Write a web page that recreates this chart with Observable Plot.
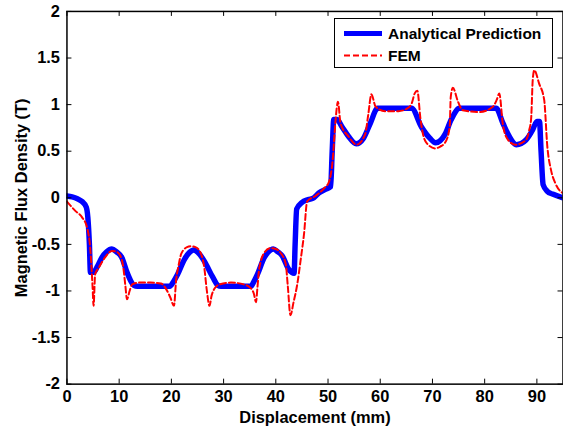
<!DOCTYPE html>
<html>
<head>
<meta charset="utf-8">
<script src="https://cdn.jsdelivr.net/npm/d3@7"></script>
<script src="https://cdn.jsdelivr.net/npm/@observablehq/plot@0.6"></script>
<style>
  html, body { margin: 0; padding: 0; background: #fff; overflow: hidden; }
  #wrap { position: relative; width: 563px; height: 431px; overflow: hidden; }
  #legend { position: absolute; left: 334px; top: 18px; width: 217px; height: 48px;
            border: 1px solid #000; background: #fff; }
  svg text { font-family: "Liberation Sans", Arial, sans-serif; }
</style>
</head>
<body>
<div id="wrap"></div>
<script>
// ---- data ----
const xTicks = [0, 10, 20, 30, 40, 50, 60, 70, 80, 90];
const yTicks = [-2, -1.5, -1, -0.5, 0, 0.5, 1, 1.5, 2];
const yTickLabels = ["-2", "-1.5", "-1", "-0.5", "0", "0.5", "1", "1.5", "2"];
const seriesNames = ["Analytical Prediction", "FEM"];

const analyticalX = [0, 1, 2, 2.9, 3.7, 4.0, 4.3, 4.5, 5.1, 5.8, 6.7, 7.6, 8.6, 9.5, 10.5, 11.5, 12.2, 12.8, 13.5,
  19.7, 20.4, 21.2, 22.5, 23.4, 24.3, 25.3, 26.3, 27.9, 28.9, 29.5,
  35.2, 35.8, 36.5, 37.8, 38.6, 39.5, 40.4, 41.2, 42.5, 43.5, 43.7, 44.0, 45.0, 46.2, 47.3, 48.2, 49.5, 50.5,
  50.8, 51.1, 51.7, 52.7, 53.9, 55.4, 56.8, 58.1, 59.5, 66.0, 67.9, 69.5, 70.6, 72.4, 73.6, 75.2,
  82.2, 83.5, 84.6, 86.1, 87.9, 89.2, 90.0, 90.5, 90.8, 91.2, 92.0, 93.0, 95.0];
const analyticalY = [0.02, 0.01, -0.01, -0.04, -0.10, -0.21, -0.5, -0.80, -0.80, -0.74, -0.64, -0.58, -0.55, -0.58, -0.64, -0.80, -0.89, -0.94, -0.95,
  -0.95, -0.90, -0.82, -0.66, -0.59, -0.56, -0.60, -0.68, -0.85, -0.94, -0.95,
  -0.95, -0.90, -0.82, -0.64, -0.58, -0.55, -0.58, -0.62, -0.77, -0.81, -0.5, -0.12, -0.05, -0.02, 0, 0.05, 0.09, 0.12,
  0.5, 0.84, 0.84, 0.76, 0.66, 0.58, 0.64, 0.80, 0.96, 0.96, 0.76, 0.64, 0.59, 0.68, 0.84, 0.96,
  0.96, 0.80, 0.67, 0.57, 0.62, 0.73, 0.82, 0.82, 0.5, 0.14, 0.07, 0.04, 0.0];

const femX = [0, 1.6, 2.9, 3.85, 4.5, 4.9, 5.1, 5.4, 6.1, 7.3, 8.6, 9.5, 10.2, 10.8, 11.2, 11.5, 12.0, 12.5, 14, 16, 18,
  19, 19.8, 20.5, 20.9, 21.4, 21.9, 23.0, 23.8, 24.6, 25.4, 26.3, 26.8, 27.3, 27.7, 28.2, 29.2, 31.4, 33.9,
  35.0, 35.8, 36.2, 36.5, 36.8, 37.8, 39.0, 40.0, 40.9, 41.9, 42.3, 42.8, 43.4, 44.1, 44.8, 45.4, 46.0, 47.6, 48.5,
  49.2, 50.1, 50.9, 51.4, 51.9, 52.4, 53.9, 55.5, 57.1, 57.7, 58.3, 59.1, 60.9, 63.5, 65.2, 66.0, 66.6, 67.1,
  67.7, 68.2, 69.0, 70.5, 71.5, 72.4, 73.3, 73.5, 73.9, 74.9, 75.8, 79.0, 81.6, 82.3, 82.8, 83.5, 84.5, 85.9,
  87.9, 88.5, 88.9, 89.2, 89.5, 90.4, 91.4, 92.0, 92.7, 93.5, 94.5, 95.0];
const femY = [-0.04, -0.14, -0.21, -0.32, -0.57, -0.95, -1.16, -0.82, -0.75, -0.64, -0.57, -0.58, -0.62, -0.75, -0.95, -1.09, -1.0, -0.93, -0.91, -0.91, -0.92,
  -0.98, -1.07, -1.16, -0.89, -0.72, -0.60, -0.53, -0.52, -0.53, -0.57, -0.75, -1.0, -1.16, -1.05, -0.98, -0.93, -0.91, -0.93,
  -0.96, -1.03, -1.12, -0.95, -0.77, -0.59, -0.54, -0.55, -0.59, -0.71, -0.95, -1.26, -1.12, -0.93, -0.65, -0.39, -0.04, 0.02, 0.06,
  0.10, 0.16, 0.41, 0.80, 1.03, 0.80, 0.66, 0.57, 0.68, 0.89, 1.11, 0.98, 0.93, 0.93, 0.96, 1.01, 1.12, 1.15,
  0.85, 0.68, 0.58, 0.53, 0.55, 0.59, 0.76, 1.08, 1.18, 1.03, 0.94, 0.92, 0.98, 1.05, 1.12, 0.78, 0.62, 0.57,
  0.62, 0.72, 0.85, 1.26, 1.37, 1.23, 1.05, 0.55, 0.30, 0.16, 0.07, 0.05];

// ---- build tables ----
const analytical = analyticalX.map((x, i) => ({x, y: analyticalY[i]}));
const fem = femX.map((x, i) => ({x, y: femY[i]}));

const W = 566, H = 431;
const mL = 66.8, mR = 0.5, mT = 11, mB = 45.3;
const innerW = W - mL - mR, innerH = H - mT - mB;
const blue = "#0000ff", red = "#ff0000";
const font = "'Liberation Sans', Arial, sans-serif";

const chart = Plot.plot({
  width: W,
  height: H,
  marginLeft: mL, marginRight: mR, marginTop: mT, marginBottom: mB,
  style: {fontFamily: font, fontSize: "15.5px", fontWeight: "bold", color: "#000", background: "#fff", overflow: "visible"},
  x: {domain: [0, 95]},
  y: {domain: [-2, 2]},
  marks: [
    Plot.line(analytical, {x: "x", y: "y", stroke: blue, strokeWidth: 5.5, curve: "monotone-x", strokeLinejoin: "round", clip: true}),
    Plot.line(fem, {x: "x", y: "y", stroke: red, strokeWidth: 2, strokeDasharray: "6,3", curve: "monotone-x", clip: true}),
    // inward ticks on all four sides
    Plot.ruleX(xTicks, {x: d => d, insetBottom: innerH - 5, stroke: "#000", strokeWidth: 1}),
    Plot.ruleX(xTicks, {x: d => d, insetTop: innerH - 5, stroke: "#000", strokeWidth: 1}),
    Plot.ruleY(yTicks, {y: d => d, insetRight: innerW - 5, stroke: "#000", strokeWidth: 1}),
    Plot.ruleY(yTicks, {y: d => d, insetLeft: innerW - 5, stroke: "#000", strokeWidth: 1}),
    Plot.frame({stroke: "#000", strokeWidth: 1.5}),
    Plot.axisX(xTicks, {tickSize: 0, tickPadding: 6, fontSize: 16.5, label: "Displacement (mm)", labelAnchor: "center", labelOffset: 39, labelArrow: "none"}),
    Plot.axisY(yTicks, {tickSize: 0, tickPadding: 7, fontSize: 16.5, tickFormat: (d) => yTickLabels[yTicks.indexOf(d)], label: "Magnetic Flux Density (T)", labelAnchor: "center", labelOffset: 52, labelArrow: "none"})
  ]
});

const wrap = document.getElementById("wrap");
wrap.appendChild(chart);

// legend (HTML overlay, inside the axes box as in the reference)
const legend = document.createElement("div");
legend.id = "legend";
const ns = "http://www.w3.org/2000/svg";
const ls = document.createElementNS(ns, "svg");
ls.setAttribute("width", 217); ls.setAttribute("height", 48);
const rows = [
  {name: seriesNames[0], stroke: blue, width: 5, dash: null},
  {name: seriesNames[1], stroke: red, width: 2, dash: "6,3"}
];
rows.forEach((r, i) => {
  const cy = 14.5 + i * 22;
  const ln = document.createElementNS(ns, "line");
  ln.setAttribute("x1", 9); ln.setAttribute("x2", 47);
  ln.setAttribute("y1", cy); ln.setAttribute("y2", cy);
  ln.setAttribute("stroke", r.stroke); ln.setAttribute("stroke-width", r.width);
  if (r.dash) ln.setAttribute("stroke-dasharray", r.dash);
  ls.appendChild(ln);
  const t = document.createElementNS(ns, "text");
  t.setAttribute("x", 53); t.setAttribute("y", cy);
  t.setAttribute("dy", "0.36em");
  t.setAttribute("font-family", font);
  t.setAttribute("font-size", "15.5px");
  t.setAttribute("font-weight", "bold");
  t.textContent = r.name;
  ls.appendChild(t);
});
legend.appendChild(ls);
wrap.appendChild(legend);
</script>
</body>
</html>
